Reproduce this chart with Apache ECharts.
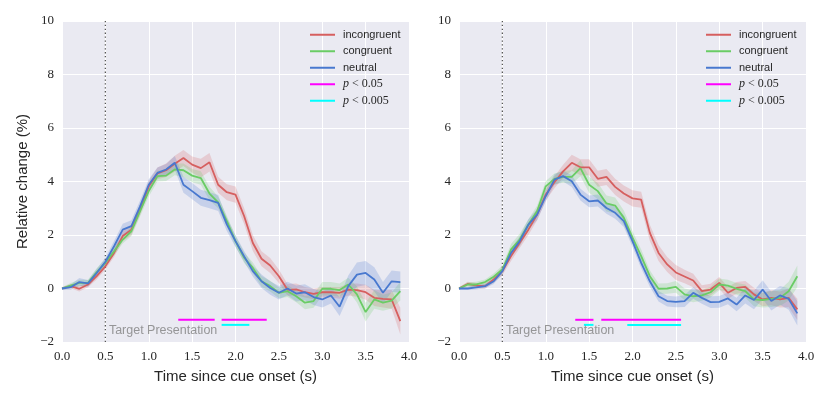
<!DOCTYPE html>
<html>
<head>
<meta charset="utf-8">
<script src="https://cdn.jsdelivr.net/npm/echarts@6/dist/echarts.min.js"></script>
<style>html,body{margin:0;padding:0;background:#fff;}#c{width:830px;height:399px;}</style>
</head>
<body>
<div id="c"></div>
<script>
// ---- data ----
const times = [0.0,0.1,0.2,0.3,0.4,0.5,0.6,0.7,0.8,0.9,1.0,1.1,1.2,1.3,1.4,1.5,1.6,1.7,1.8,1.9,2.0,2.1,2.2,2.3,2.4,2.5,2.6,2.7,2.8,2.9,3.0,3.1,3.2,3.3,3.4,3.5,3.6,3.7,3.8,3.9];
const xTicks = [0.0,0.5,1.0,1.5,2.0,2.5,3.0,3.5,4.0];
const yTicks = [-2,0,2,4,6,8,10];
const seriesNames = ['incongruent','congruent','neutral'];
const sigNames = ['p < 0.05','p < 0.005'];
const cueOnset = 0.5;

// Left panel
const leftIncongruent = [0,0.09,-0.01,0.15,0.46,0.83,1.33,1.96,2.2,2.95,3.82,4.3,4.42,4.66,4.88,4.63,4.5,4.72,3.88,3.6,3.51,2.7,1.7,1.11,0.86,0.46,-0.05,-0.03,-0.14,-0.2,-0.14,-0.14,-0.16,-0.04,-0.06,-0.14,-0.35,-0.39,-0.41,-1.22];
const leftCongruent = [0,0.11,0.21,0.21,0.61,0.96,1.39,1.83,2.14,2.89,3.64,4.2,4.22,4.45,4.42,4.22,4.13,3.55,3.22,2.52,1.77,1.15,0.77,0.27,0.09,-0.16,-0.1,-0.29,-0.53,-0.47,-0.01,-0.01,-0.06,0.15,-0.22,-0.88,-0.41,-0.53,-0.45,-0.1];
const leftNeutral = [0,0.05,0.24,0.19,0.58,1.0,1.58,2.2,2.33,3.07,3.88,4.32,4.45,4.7,3.88,3.64,3.39,3.3,3.2,2.4,1.77,1.2,0.65,0.27,0.02,-0.16,0.0,-0.19,-0.14,-0.32,-0.41,-0.26,-0.68,0.09,0.52,0.58,0.34,-0.16,0.27,0.24];
const leftIncongruentErr = [0.05,0.08,0.1,0.1,0.12,0.12,0.15,0.18,0.2,0.2,0.2,0.22,0.25,0.3,0.3,0.3,0.35,0.35,0.3,0.3,0.3,0.3,0.3,0.28,0.28,0.25,0.22,0.22,0.2,0.2,0.2,0.2,0.22,0.22,0.25,0.28,0.3,0.32,0.35,0.5];
const leftCongruentErr = [0.05,0.1,0.12,0.12,0.15,0.15,0.15,0.15,0.18,0.2,0.2,0.2,0.2,0.22,0.25,0.25,0.25,0.25,0.22,0.2,0.2,0.2,0.2,0.2,0.2,0.2,0.22,0.22,0.25,0.25,0.25,0.25,0.25,0.25,0.3,0.35,0.35,0.3,0.3,0.35];
const leftNeutralErr = [0.05,0.1,0.15,0.12,0.15,0.15,0.2,0.22,0.22,0.22,0.2,0.2,0.2,0.25,0.3,0.3,0.3,0.3,0.3,0.25,0.22,0.2,0.2,0.25,0.25,0.25,0.25,0.3,0.3,0.3,0.3,0.3,0.35,0.4,0.45,0.45,0.45,0.4,0.4,0.4];
const leftP05 = [[1.34,1.76],[1.84,2.36]];
const leftP005 = [[1.84,2.16]];

// Right panel
const rightIncongruent = [0,0.17,0.11,0.09,0.34,0.65,1.21,1.71,2.2,2.76,3.51,3.97,4.38,4.7,4.53,4.53,4.1,4.17,3.8,3.55,3.37,3.32,2.08,1.33,0.9,0.6,0.45,0.3,-0.1,-0.04,0.21,-0.16,0.02,0.06,-0.22,-0.41,-0.35,-0.41,-0.35,-0.78];
const rightCongruent = [0,0.15,0.15,0.24,0.44,0.71,1.46,1.83,2.39,2.89,3.82,4.1,4.17,4.17,4.5,3.88,3.64,3.18,3.1,2.64,1.9,1.21,0.46,-0.01,0.0,0.06,-0.22,-0.29,-0.26,-0.14,0.15,0.11,-0.01,-0.1,-0.41,-0.43,-0.39,-0.35,-0.1,0.46];
const rightNeutral = [0,0.0,0.04,0.09,0.27,0.65,1.33,1.77,2.39,2.76,3.45,4.07,4.2,4.01,3.51,3.26,3.29,3.01,2.83,2.52,1.77,0.96,0.27,-0.29,-0.47,-0.5,-0.47,-0.16,-0.35,-0.51,-0.5,-0.37,-0.6,-0.26,-0.43,-0.04,-0.47,-0.26,-0.39,-0.93];
const rightIncongruentErr = [0.05,0.08,0.1,0.1,0.12,0.15,0.18,0.2,0.2,0.22,0.22,0.22,0.25,0.3,0.3,0.3,0.3,0.3,0.3,0.3,0.3,0.3,0.3,0.3,0.28,0.28,0.25,0.25,0.22,0.22,0.22,0.22,0.22,0.22,0.25,0.25,0.28,0.3,0.35,0.4];
const rightCongruentErr = [0.05,0.08,0.1,0.1,0.12,0.15,0.2,0.22,0.2,0.2,0.2,0.2,0.22,0.25,0.3,0.3,0.3,0.3,0.3,0.28,0.25,0.25,0.22,0.2,0.2,0.22,0.22,0.22,0.2,0.2,0.22,0.22,0.22,0.25,0.25,0.28,0.3,0.3,0.35,0.4];
const rightNeutralErr = [0.05,0.06,0.08,0.08,0.1,0.12,0.15,0.18,0.2,0.2,0.2,0.2,0.2,0.22,0.22,0.22,0.22,0.22,0.22,0.22,0.22,0.2,0.2,0.2,0.2,0.2,0.22,0.22,0.22,0.22,0.22,0.22,0.25,0.3,0.35,0.35,0.35,0.35,0.4,0.45];
const rightP05 = [[1.34,1.55],[1.64,2.56]];
const rightP005 = [[1.44,1.55],[1.94,2.56]];

const sigLevel = [-1.17,-1.36];
const labelPos = [0.54,-1.56];

// ---- styling ----
const colors = {incongruent:'#D65F5F', congruent:'#6ACC65', neutral:'#4878CF'};
const sigColors = ['#FF00FF','#00FFFF'];
const bg = '#EAEAF2';
const sans = 'Liberation Sans';
const serif = 'Liberation Serif';

const panels = [
  {vals:[leftIncongruent,leftCongruent,leftNeutral], errs:[leftIncongruentErr,leftCongruentErr,leftNeutralErr], sig:[leftP05,leftP005]},
  {vals:[rightIncongruent,rightCongruent,rightNeutral], errs:[rightIncongruentErr,rightCongruentErr,rightNeutralErr], sig:[rightP05,rightP005]}
];

const grids = [
  {left:62, top:21, width:347, height:321},
  {left:459, top:21, width:347, height:321}
].map(g => Object.assign(g, {show:true, backgroundColor:bg, borderWidth:0, containLabel:false}));

const xAxes = [0,1].map(i => ({
  type:'value', gridIndex:i, min:xTicks[0], max:xTicks[xTicks.length-1], interval:0.5,
  axisLine:{show:false}, axisTick:{show:false},
  splitLine:{show:true, lineStyle:{color:'#ffffff', width:1}},
  axisLabel:{fontFamily:serif, fontSize:13, color:'#262626', margin:8, formatter:v => v.toFixed(1)},
  name:'Time since cue onset (s)', nameLocation:'middle', nameGap:27,
  nameTextStyle:{fontFamily:sans, fontSize:15, color:'#262626'}
}));
const yAxes = [0,1].map(i => ({
  type:'value', gridIndex:i, min:yTicks[0], max:yTicks[yTicks.length-1], interval:2,
  axisLine:{show:false}, axisTick:{show:false},
  splitLine:{show:true, lineStyle:{color:'#ffffff', width:1}},
  axisLabel:{fontFamily:serif, fontSize:13, color:'#262626', margin:8, formatter:v => String(v).replace('-', '\u2212')},
  name: i === 0 ? 'Relative change (%)' : '', nameLocation:'middle', nameGap:32, nameRotate:90,
  nameTextStyle:{fontFamily:sans, fontSize:15, color:'#262626'}
}));

const series = [];
panels.forEach((p, pi) => {
  // bands
  seriesNames.forEach((nm, si) => {
    const mean = p.vals[si], err = p.errs[si];
    series.push({
      type:'custom', name:'band-'+nm+'-'+pi, xAxisIndex:pi, yAxisIndex:pi, silent:true, z:1,
      data: times.map((t,i) => [t, mean[i]-err[i], mean[i]+err[i]]),
      encode:{x:0, y:[1,2]},
      renderItem: function(params, api) {
        if (params.dataIndex !== 0) return null;
        const up = [], lo = [];
        for (let i = 0; i < times.length; i++) {
          up.push(api.coord([times[i], mean[i]+err[i]]));
          lo.push(api.coord([times[i], mean[i]-err[i]]));
        }
        return {type:'polygon', shape:{points: up.concat(lo.reverse())}, style:{fill:colors[nm], opacity:0.22}};
      }
    });
  });
  // mean lines
  seriesNames.forEach((nm, si) => {
    series.push({
      type:'line', name:nm, xAxisIndex:pi, yAxisIndex:pi, z:3,
      showSymbol:false, symbol:'none', animation:false,
      data: times.map((t,i) => [t, p.vals[si][i]]),
      lineStyle:{color:colors[nm], width:1.8}, itemStyle:{color:colors[nm]}
    });
  });
  // significance bars
  p.sig.forEach((segs, k) => {
    segs.forEach(seg => {
      series.push({
        type:'line', name:sigNames[k], xAxisIndex:pi, yAxisIndex:pi, z:3,
        showSymbol:false, symbol:'none', animation:false,
        data:[[seg[0], sigLevel[k]],[seg[1], sigLevel[k]]],
        lineStyle:{color:sigColors[k], width:2}, itemStyle:{color:sigColors[k]}
      });
    });
  });
  // cue onset dotted line
  series.push({
    type:'line', name:'cue-'+pi, xAxisIndex:pi, yAxisIndex:pi, z:2,
    showSymbol:false, symbol:'none', animation:false,
    data:[[cueOnset, yTicks[0]],[cueOnset, yTicks[yTicks.length-1]]],
    lineStyle:{color:'#555555', width:1.3, type:[1.3,2.6]}
  });
  // label
  series.push({
    type:'scatter', name:'lbl-'+pi, xAxisIndex:pi, yAxisIndex:pi, z:4,
    symbolSize:0.1, data:[labelPos], silent:true,
    label:{show:true, position:'right', distance:0, formatter:'Target Presentation',
      fontFamily:sans, fontSize:12.5, color:'#808080'}
  });
});

const legendNames = seriesNames.concat(sigNames);
function legendFmt(name) {
  if (name === 'p < 0.05') return '{i|p} {m|< 0.05}';
  if (name === 'p < 0.005') return '{i|p} {m|< 0.005}';
  return name;
}
const legends = [310, 706].map(l => ({
  left:l, top:28, orient:'vertical', padding:0, itemGap:3, itemWidth:25, itemHeight:2,
  icon:'rect', selectedMode:false,
  data: legendNames,
  formatter: legendFmt,
  textStyle:{fontFamily:sans, fontSize:11, color:'#262626', lineHeight:13.5, padding:[0,0,0,3],
    rich:{i:{fontFamily:serif, fontStyle:'italic', fontSize:12, color:'#262626'}, m:{fontFamily:serif, fontSize:12, color:'#262626'}}}
}));

const chart = echarts.init(document.getElementById('c'), null, {renderer:'canvas'});
chart.setOption({
  animation:false,
  backgroundColor:'#ffffff',
  grid:grids, xAxis:xAxes, yAxis:yAxes, legend:legends, series:series
});
</script>
</body>
</html>
